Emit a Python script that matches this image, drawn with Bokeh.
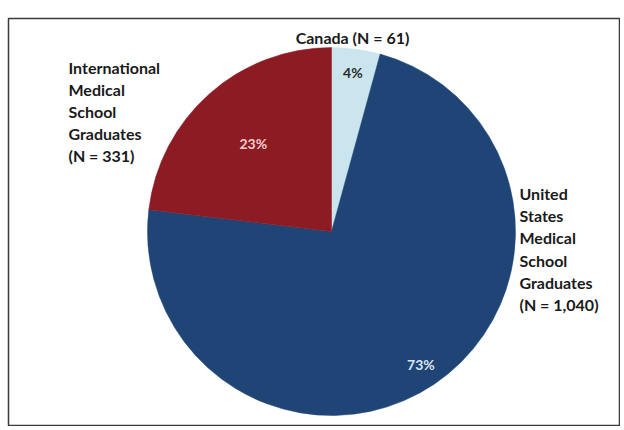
import math
from bokeh.plotting import figure
from bokeh.models import Range1d, ColumnDataSource
from bokeh.core.properties import value
from bokeh.embed import file_html
from bokeh.resources import INLINE

# ---- data ----
categories = ["Canada", "United States Medical School Graduates", "International Medical School Graduates"]
counts = [61, 1040, 331]
pct_labels = ["4%", "73%", "23%"]
colors = ["#cbe5ef", "#1f4576", "#8c1b24"]
pct_colors = ["#2a2a2a", "#dde4f0", "#f4cccc"]
pct_radius_frac = [0.87, 0.87, 0.64]
cat_labels = [
    "Canada (N = 61)",
    "United\nStates\nMedical\nSchool\nGraduates\n(N = 1,040)",
    "International\nMedical\nSchool\nGraduates\n(N = 331)",
]

W, H = 620, 426
p = figure(width=W, height=H, output_backend="svg", toolbar_location=None,
           x_range=Range1d(8, 620), y_range=Range1d(0, 408),
           min_border_top=18, min_border_left=8, min_border_right=0, min_border_bottom=0)
p.axis.visible = False
p.grid.visible = False
p.outline_line_color = "#3a3a3a"
p.outline_line_width = 1.5
p.background_fill_color = "white"
p.border_fill_color = "white"

cx, cy, R = 331, 195, 184
total = sum(counts)
starts, ends, lx, ly = [], [], [], []
a = math.pi / 2
for c, f in zip(counts, pct_radius_frac):
    sweep = 2 * math.pi * c / total
    starts.append(a - sweep)
    ends.append(a)
    mid = a - sweep / 2
    lx.append(cx + f * R * math.cos(mid))
    ly.append(cy + f * R * math.sin(mid))
    a -= sweep

src = ColumnDataSource(dict(start=starts, end=ends, color=colors, lx=lx, ly=ly,
                            pct=pct_labels, pcol=pct_colors))
p.wedge(x=cx, y=cy, radius=R, start_angle="start", end_angle="end",
        fill_color="color", line_color="color", line_width=0.5, source=src)
p.text(x="lx", y="ly", text="pct", text_color="pcol", source=src,
       text_font=value("Lato"), text_font_style="bold", text_font_size="14px",
       text_align="center", text_baseline="middle")

# category labels
FS = "16px"
p.text(x=[352], y=[389], text=[cat_labels[0]], text_font=value("Lato"), text_font_style="bold",
       text_font_size=FS, text_align="center", text_baseline="middle", text_color="#1a1a1a")
p.text(x=[519], y=[177.5], text=[cat_labels[1]], text_font=value("Lato"), text_font_style="bold",
       text_font_size=FS, text_align="left", text_baseline="middle", text_color="#1a1a1a",
       text_line_height=1.17)
p.text(x=[68], y=[315], text=[cat_labels[2]], text_font=value("Lato"), text_font_style="bold",
       text_font_size=FS, text_align="left", text_baseline="middle", text_color="#1a1a1a",
       text_line_height=1.17)

open("out.html", "w").write(file_html(p, INLINE))
